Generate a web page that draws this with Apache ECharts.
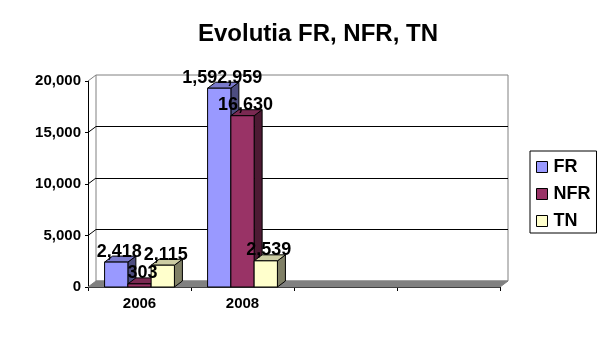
<!DOCTYPE html>
<html>
<head>
<meta charset="utf-8">
<script src="https://cdn.jsdelivr.net/npm/echarts@6/dist/echarts.min.js"></script>
<style>
html,body{margin:0;padding:0;background:#fff;}
#chart{width:606px;height:340px;}
</style>
</head>
<body>
<div id="chart"></div>
<script>
// ---- data ----
const categories = ['2006', '2008', '', ''];
const seriesNames = ['FR', 'NFR', 'TN'];
// bar heights as drawn (FR 2008 runs off the 20,000 scale, drawn just under the top)
const frValues = [2418, 19300];
const nfrValues = [303, 16630];
const tnValues = [2115, 2539];
// data label texts as printed on the chart
const frLabels = ['2,418', '1,592,959'];
const nfrLabels = ['303', '16,630'];
const tnLabels = ['2,115', '2,539'];
const yTicks = [0, 5000, 10000, 15000, 20000];

const FONT = '"Liberation Sans", Arial, sans-serif';
const DX = 8, DY = -6;
const palette = [
  { front: '#9999FF', top: '#7A7ACC', side: '#4D4D80' },
  { front: '#993366', top: '#7A2952', side: '#4D1A33' },
  { front: '#FFFFCC', top: '#CCCCA3', side: '#808066' }
];

function geom(api, idx) {
  const ci = api.value(0), v = api.value(1);
  const p = api.coord([ci, v]);
  const b = api.coord([ci, 0]);
  const band = api.size([1, 0])[0];
  const bw = band * 0.226;
  const xl = p[0] - 1.5 * bw + idx * bw;
  return { ci: ci, xl: xl, xr: xl + bw, bw: bw, yt: p[1], yb: b[1] };
}

function barSeries(idx, values, labels) {
  const col = palette[idx];
  return {
    type: 'custom',
    name: seriesNames[idx],
    xAxisIndex: 0,
    yAxisIndex: 0,
    z: 10 + idx,
    itemStyle: { color: col.front, borderColor: '#000', borderWidth: 1 },
    data: values.map((v, i) => [i, v]),
    renderItem: function (params, api) {
      const g = geom(api, idx);
      const xl = g.xl, xr = g.xr, yt = g.yt, yb = g.yb;
      const line = { stroke: '#000', lineWidth: 1 };
      return {
        type: 'group',
        children: [
          { type: 'polygon', shape: { points: [[xr, yt], [xr + DX, yt + DY], [xr + DX, yb + DY], [xr, yb]] },
            style: Object.assign({ fill: col.side }, line) },
          { type: 'polygon', shape: { points: [[xl, yt], [xr, yt], [xr + DX, yt + DY], [xl + DX, yt + DY]] },
            style: Object.assign({ fill: col.top }, line) },
          { type: 'rect', shape: { x: xl, y: yt, width: g.bw, height: yb - yt },
            style: Object.assign({ fill: col.front }, line) }
        ]
      };
    }
  };
}

function labelSeries(idx, values, labels) {
  return {
    type: 'custom',
    xAxisIndex: 0,
    yAxisIndex: 0,
    z: 50,
    silent: true,
    data: values.map((v, i) => [i, v]),
    renderItem: function (params, api) {
      const g = geom(api, idx);
      return {
        type: 'text',
        style: { text: labels[g.ci], x: (g.xl + g.xr) / 2 + 3, y: g.yt - 1.5, align: 'center', verticalAlign: 'bottom',
          font: 'bold 18px ' + FONT, fill: '#000' }
      };
    }
  };
}

const floorSeries = {
  type: 'custom',
  xAxisIndex: 0,
  yAxisIndex: 0,
  silent: true,
  z: 1,
  data: [[0]],
  renderItem: function (params, api) {
    const cs = params.coordSys;
    const x0 = cs.x, x1 = cs.x + cs.width;
    const children = [];
    yTicks.forEach(function (t, i) {
      const y = api.coord([0, t])[1];
      if (i === 0) {
        children.push({ type: 'polygon', shape: { points: [[x0, y], [x1, y], [x1 + DX, y + DY], [x0 + DX, y + DY]] },
          style: { fill: '#808080', stroke: '#808080', lineWidth: 1 } });
      } else {
        children.push({ type: 'line', shape: { x1: x0, y1: y, x2: x0 + DX, y2: y + DY },
          style: { stroke: i === yTicks.length - 1 ? '#808080' : '#000', lineWidth: 1 } });
      }
    });
    return { type: 'group', children: children };
  }
};

const chart = echarts.init(document.getElementById('chart'), null, { renderer: 'canvas' });
chart.setOption({
  backgroundColor: '#fff',
  animation: false,
  title: {
    text: 'Evolutia FR, NFR, TN',
    left: 318, top: 22, padding: 0, textAlign: 'center',
    textStyle: { fontFamily: FONT, fontSize: 24, fontWeight: 'bold', color: '#000' }
  },
  legend: {
    data: seriesNames,
    orient: 'vertical',
    left: 530, top: 151,
    padding: [7, 6, 3, 6],
    itemGap: 9,
    itemWidth: 11, itemHeight: 11,
    icon: 'rect',
    borderColor: '#000', borderWidth: 1,
    itemStyle: { borderColor: '#000', borderWidth: 1 },
    textStyle: { fontFamily: FONT, fontSize: 18, fontWeight: 'bold', color: '#000', padding: [0, 0, 0, 1] }
  },
  grid: [
    { left: 88, top: 81, width: 412, height: 206 },
    { left: 96, top: 75, width: 412, height: 206, show: true, borderColor: '#808080', borderWidth: 1, backgroundColor: 'transparent' }
  ],
  xAxis: [
    {
      type: 'category', gridIndex: 0, data: categories,
      axisLine: { lineStyle: { color: '#000', width: 1 } },
      axisTick: { show: true, length: 4, lineStyle: { color: '#000' } },
      axisLabel: { margin: 9, fontFamily: FONT, fontSize: 15, fontWeight: 'bold', color: '#000' },
      splitLine: { show: false }
    },
    { type: 'value', gridIndex: 1, show: false }
  ],
  yAxis: [
    {
      type: 'value', gridIndex: 0, min: yTicks[0], max: yTicks[yTicks.length - 1], interval: 5000,
      axisLine: { show: true, lineStyle: { color: '#000', width: 1 } },
      axisTick: { show: true, length: 3, lineStyle: { color: '#000' } },
      axisLabel: { margin: 7, fontFamily: FONT, fontSize: 15, fontWeight: 'bold', color: '#000',
        formatter: function (v) { return v.toLocaleString('en-US'); } },
      splitLine: { show: false }
    },
    {
      type: 'value', gridIndex: 1, min: yTicks[0], max: yTicks[yTicks.length - 1], interval: 5000,
      axisLine: { show: false }, axisTick: { show: false }, axisLabel: { show: false },
      splitLine: { show: true, showMaxLine: false, showMinLine: false, lineStyle: { color: '#000', width: 1 } }
    }
  ],
  series: [
    floorSeries,
    barSeries(0, frValues, frLabels),
    barSeries(1, nfrValues, nfrLabels),
    barSeries(2, tnValues, tnLabels),
    labelSeries(0, frValues, frLabels),
    labelSeries(1, nfrValues, nfrLabels),
    labelSeries(2, tnValues, tnLabels)
  ]
});
</script>
</body>
</html>
